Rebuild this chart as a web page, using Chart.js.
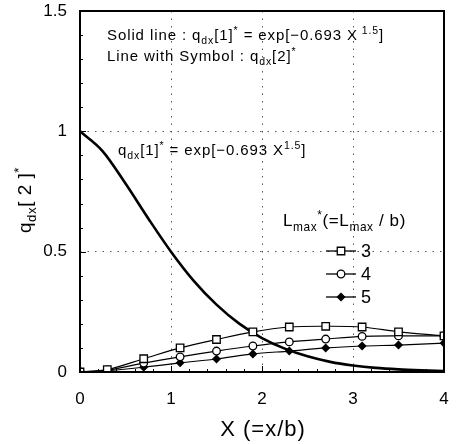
<!DOCTYPE html>
<html>
<head>
<meta charset="utf-8">
<script src="https://cdn.jsdelivr.net/npm/chart.js@4.4.0/dist/chart.umd.min.js"></script>
<style>
html, body { margin: 0; padding: 0; background: #fff; }
#wrap { width: 456px; height: 444px; }
</style>
</head>
<body>
<div id="wrap"><canvas id="chart"></canvas></div>
<script>
// values
var xSym  = [0, 0.3, 0.7, 1.1, 1.5, 1.9, 2.3, 2.7, 3.1, 3.5, 4.0];
var lmax3 = [0, 0.010, 0.055, 0.100, 0.135, 0.167, 0.187, 0.190, 0.187, 0.167, 0.150];
var lmax4 = [0, 0.008, 0.037, 0.063, 0.087, 0.108, 0.125, 0.137, 0.148, 0.150, 0.150];
var lmax5 = [0, 0.005, 0.020, 0.038, 0.054, 0.075, 0.087, 0.100, 0.108, 0.112, 0.120];

var xSolid = [0, 0.25, 0.5, 0.75, 1.0, 1.25, 1.5, 1.75, 2.0, 2.25, 2.5, 2.75, 3.0, 3.25, 3.5, 3.75, 4.0];
var qdx1   = [1.0, 0.917, 0.783, 0.638, 0.5, 0.379, 0.28, 0.201, 0.141, 0.097, 0.065, 0.042, 0.027, 0.017, 0.011, 0.007, 0.004];

var xTicks = [0, 1, 2, 3, 4];
var yTicks = [0, 0.5, 1, 1.5];
var legendLabels = ['3', '4', '5'];

var FONT = '"Liberation Sans", Arial, sans-serif';
Chart.defaults.font.family = FONT;
Chart.defaults.color = '#000';

function pts(xs, ys) {
    return xs.map(function(x, i) { return {x: x, y: ys[i]}; });
}

// text with subscript / superscript parts: [[text, 'n'|'sub'|'sup'], ...]
function richText(ctx, parts, x, y, size, align, spacing) {
    ctx.letterSpacing = (spacing || 0) + 'px';
    var w = 0;
    parts.forEach(function(p) {
        ctx.font = (p[1] === 'n' ? size : size * 0.7) + 'px ' + FONT;
        w += ctx.measureText(p[0]).width;
    });
    if (align === 'center') x -= w / 2;
    ctx.textBaseline = 'alphabetic';
    ctx.textAlign = 'left';
    parts.forEach(function(p) {
        var s = p[1] === 'n' ? size : size * 0.7;
        var dy = p[1] === 'sub' ? size * 0.28 : (p[1] === 'sup' ? -size * 0.42 : 0);
        ctx.font = s + 'px ' + FONT;
        ctx.fillText(p[0], x, y + dy);
        x += ctx.measureText(p[0]).width;
    });
    ctx.letterSpacing = '0px';
}

var symStyles = [
    {pointStyle: 'rect', radius: 5.3, bg: '#fff'},
    {pointStyle: 'circle', radius: 3.8, bg: '#fff'},
    {pointStyle: 'rectRot', radius: 3.6, bg: '#000'}
];

var decor = {
    id: 'decor',
    afterDraw: function(chart) {
        var ctx = chart.ctx, a = chart.chartArea;
        var xs = chart.scales.x, ys = chart.scales.y;
        ctx.save();
        ctx.strokeStyle = '#000';
        // minor / major inward ticks
        ctx.lineWidth = 1;
        ctx.beginPath();
        for (var i = 0; i <= 15; i++) {
            var py = Math.round(ys.getPixelForValue(i / 10)) + 0.5;
            var len = i % 5 === 0 ? 6 : 3;
            ctx.moveTo(a.left, py); ctx.lineTo(a.left + len, py);
        }
        for (var j = 0; j <= 20; j++) {
            var px = Math.round(xs.getPixelForValue(j / 5)) + 0.5;
            var l2 = j % 5 === 0 ? 6 : 3;
            ctx.moveTo(px, a.bottom); ctx.lineTo(px, a.bottom - l2);
        }
        ctx.stroke();
        // frame
        ctx.lineWidth = 2;
        ctx.strokeRect(a.left, a.top, a.right - a.left, a.bottom - a.top);

        ctx.fillStyle = '#000';
        // annotations
        richText(ctx, [['Solid line : q', 'n'], ['dx', 'sub'], ['[1]', 'n'], ['*', 'sup'],
            [' = exp[\u22120.693 X', 'n'], [' 1.5', 'sup'], [']', 'n']], 107, 40, 15, 'left', 0.9);
        richText(ctx, [['Line with Symbol : q', 'n'], ['dx', 'sub'], ['[2]', 'n'], ['*', 'sup']], 107, 61, 15, 'left', 0.9);
        richText(ctx, [['q', 'n'], ['dx', 'sub'], ['[1]', 'n'], ['*', 'sup'],
            [' = exp[\u22120.693 X', 'n'], ['1.5', 'sup'], [']', 'n']], 118, 155, 15, 'left', 0.9);

        // legend
        richText(ctx, [['L', 'n'], ['max', 'sub'], ['*', 'sup'], ['(=L', 'n'], ['max', 'sub'], [' / b)', 'n']], 283, 226, 17, 'left', 0.6);
        var ly = [251, 274, 297];
        chart.data.datasets.slice(0, 3).forEach(function(ds, k) {
            ctx.lineWidth = 1.3;
            ctx.beginPath();
            ctx.moveTo(326, ly[k]); ctx.lineTo(356, ly[k]);
            ctx.stroke();
            ctx.fillStyle = symStyles[k].bg;
            ctx.strokeStyle = '#000';
            Chart.helpers.drawPoint(ctx, {pointStyle: symStyles[k].pointStyle, radius: symStyles[k].radius,
                borderWidth: 1.3, rotation: 0}, 341, ly[k]);
            ctx.fillStyle = '#000';
            ctx.font = '18px ' + FONT;
            ctx.textAlign = 'left';
            ctx.textBaseline = 'middle';
            ctx.fillText(legendLabels[k], 361, ly[k] + 1);
        });

        // axis titles
        ctx.fillStyle = '#000';
        ctx.font = '22px ' + FONT;
        ctx.letterSpacing = '1px';
        ctx.textAlign = 'center';
        ctx.textBaseline = 'middle';
        ctx.fillText('X (=x/b)', 263, 430);
        ctx.letterSpacing = '0px';
        ctx.translate(31, 200);
        ctx.rotate(-Math.PI / 2);
        richText(ctx, [['q', 'n'], ['dx', 'sub'], ['[ 2 ]', 'n'], ['*', 'sup']], 0, 0, 19, 'center', 0.5);
        ctx.restore();
    }
};

function symSet(label, ys, k) {
    return {
        label: label,
        data: pts(xSym, ys),
        showLine: true,
        borderColor: '#000',
        borderWidth: 1.2,
        pointStyle: symStyles[k].pointStyle,
        pointRadius: symStyles[k].radius,
        pointBackgroundColor: symStyles[k].bg,
        pointBorderColor: '#000',
        pointBorderWidth: 1.3,
        tension: 0.3
    };
}

function plainLabel(v) { return String(v); }

new Chart(document.getElementById('chart'), {
    type: 'scatter',
    data: {
        datasets: [
            symSet('3', lmax3, 0),
            symSet('4', lmax4, 1),
            symSet('5', lmax5, 2),
            {
                label: 'qdx[1]*',
                data: pts(xSolid, qdx1),
                showLine: true,
                borderColor: '#000',
                borderWidth: 2.6,
                pointRadius: 0,
                cubicInterpolationMode: 'monotone'
            }
        ]
    },
    options: {
        responsive: true,
        maintainAspectRatio: false,
        animation: false,
        layout: {padding: {left: 0, right: 12, top: 11, bottom: 0}},
        plugins: {legend: {display: false}, tooltip: {enabled: false}},
        scales: {
            x: {
                type: 'linear', min: 0, max: 4,
                afterBuildTicks: function(s) { s.ticks = xTicks.map(function(v) { return {value: v}; }); },
                afterFit: function(s) { s.height = 72; s.paddingLeft = 0; s.paddingRight = 0; },
                grid: {color: '#555', lineWidth: 1, drawTicks: false},
                border: {display: false, dash: [1.5, 6]},
                ticks: {font: {size: 17}, padding: 17, maxRotation: 0, callback: plainLabel}
            },
            y: {
                type: 'linear', min: 0, max: 1.5,
                afterBuildTicks: function(s) { s.ticks = yTicks.map(function(v) { return {value: v}; }); },
                afterFit: function(s) { s.width = 80; s.paddingTop = 0; s.paddingBottom = 0; },
                grid: {color: '#555', lineWidth: 1, drawTicks: false},
                border: {display: false, dash: [1.5, 6]},
                ticks: {font: {size: 17}, padding: 13, callback: plainLabel}
            }
        }
    },
    plugins: [decor]
});
</script>
</body>
</html>
